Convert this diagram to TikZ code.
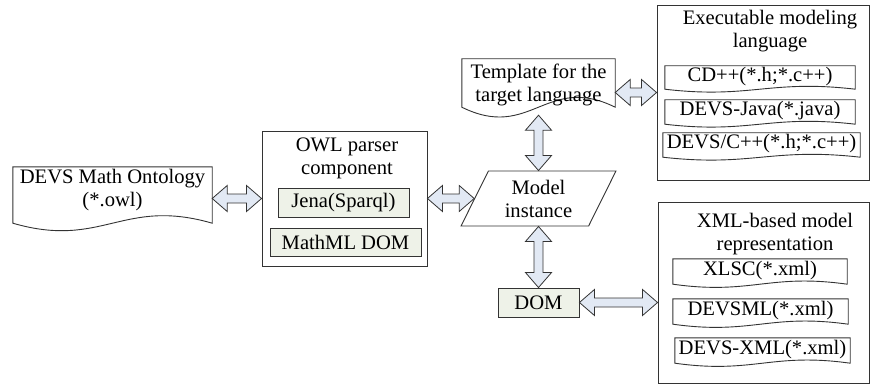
\documentclass[tikz,border=0pt]{standalone}
\usepackage{fontspec}
\setmainfont{Liberation Serif}
\usetikzlibrary{calc,shapes.geometric}

\definecolor{arrowfill}{HTML}{E2E9F4}
\definecolor{boxfill}{HTML}{EEF2E8}
\definecolor{edgecol}{HTML}{333333}

% double-headed block arrow between two points
\newcommand\blockarrow[2]{%
  \draw[blockarrow] let \p1=(#1), \p2=(#2),
      \n1={atan2(\y2-\y1,\x2-\x1)}, \n2={veclen(\x2-\x1,\y2-\y1)} in
    [shift={(\p1)}, rotate=\n1]
    (0pt,0pt) -- (15pt,13pt) -- (15pt,4.5pt) -- (\n2-15pt,4.5pt) -- (\n2-15pt,13pt)
    -- (\n2,0pt) -- (\n2-15pt,-13pt) -- (\n2-15pt,-4.5pt) -- (15pt,-4.5pt)
    -- (15pt,-13pt) -- cycle;
}

\begin{document}
\begin{tikzpicture}[x=1pt,y=-1pt,
    font=\fontsize{20.6}{23}\selectfont,
    every node/.style={inner sep=0pt, align=center},
    container/.style={draw=edgecol, line width=0.9pt, fill=white},
    greybox/.style={draw=edgecol, line width=0.9pt, fill=boxfill},
    docnode/.style={},
    docline/.style={draw=edgecol, line width=0.9pt, fill=white},
    blockarrow/.style={draw=edgecol, line width=0.8pt, fill=arrowfill, line join=miter},
    titletext/.style={}]
\useasboundingbox (0,0) rectangle (870,385);

% ---- containers ----
\node[container, minimum width=165pt, minimum height=135pt] (owl) at (344.5,198.5) {};
\node[titletext] (owltitle) at (347,158.5) {OWL parser\\component};
\node[greybox, minimum width=131pt, minimum height=29pt] (jena) at (343.5,202.5) {Jena(Sparql)};
\node[greybox, minimum width=151pt, minimum height=28pt] (mathml) at (345.5,242) {MathML DOM};

\node[container, minimum width=212pt, minimum height=175pt] (exec) at (763,92.5) {};
\node[titletext] (exectitle) at (770,31.5) {Executable modeling\\language};

\node[container, minimum width=211pt, minimum height=181pt] (xml) at (763.5,292.5) {};
\node[titletext] (xmltitle) at (775,234) {XML-based model\\representation};

\node[greybox, minimum width=81pt, minimum height=29pt] (dom) at (538.5,302.5) {DOM};

% ---- model instance (parallelogram) ----
\node[draw=edgecol, line width=0.9pt, fill=white, trapezium,
      trapezium left angle=63.85, trapezium right angle=116.15,
      trapezium stretches=true, minimum width=155pt, minimum height=55pt]
  (model) at (538.5,198.5) {Model\\instance};

% ---- document shapes ----
\node[docnode, minimum width=199pt, minimum height=56pt] (onto) at (112.5,195) {};
\node[docnode, minimum width=153pt, minimum height=48pt] (tmpl) at (538.5,83) {};
\node[docnode, minimum width=190pt, minimum height=23pt] (cdpp) at (760,77.5) {};
\node[docnode, minimum width=190pt, minimum height=24pt] (djava) at (760,112) {};
\node[docnode, minimum width=197pt, minimum height=24pt] (dcpp) at (761.5,145) {};
\node[docnode, minimum width=174pt, minimum height=25pt] (xlsc) at (760,271.5) {};
\node[docnode, minimum width=175pt, minimum height=25pt] (devsml) at (760.5,311.5) {};
\node[docnode, minimum width=175pt, minimum height=25pt] (dxml) at (762.5,350.5) {};

\foreach \n/\a in {onto/26, tmpl/34, cdpp/10, djava/10, dcpp/10, xlsc/11, devsml/11, dxml/11}
  \draw[docline] (\n.north west) -- (\n.north east) -- (\n.south east)
    .. controls ($(\n.south east)!0.45!(\n.south west)+(0,-\a)$)
            and ($(\n.south west)!0.45!(\n.south east)+(0,\a)$) .. (\n.south west) -- cycle;

\node at ($(onto.center)+(0,-5)$) {DEVS Math Ontology\\(*.owl)};
\node at ($(tmpl.center)+(0,2)$) {Template for the\\target language};
\node at ($(cdpp.center)+(0,-1)$) {CD++(*.h;*.c++)};
\node at ($(djava.center)+(0,-1)$) {DEVS-Java(*.java)};
\node at ($(dcpp.center)+(0,-1)$) {DEVS/C++(*.h;*.c++)};
\node at ($(xlsc.center)+(0,-1)$) {XLSC(*.xml)};
\node at ($(devsml.center)+(0,-1)$) {DEVSML(*.xml)};
\node at ($(dxml.center)+(0,-1)$) {DEVS-XML(*.xml)};

% ---- connectors ----
\blockarrow{onto.east |- owl.west}{owl.west}
\blockarrow{owl.east}{model.left side}
\blockarrow{$(tmpl.south)+(0,8)$}{model.north}
\blockarrow{tmpl.east |- exec.west}{exec.west}
\blockarrow{model.south}{dom.north}
\blockarrow{dom.east}{dom.east -| xml.west}
\end{tikzpicture}
\end{document}
